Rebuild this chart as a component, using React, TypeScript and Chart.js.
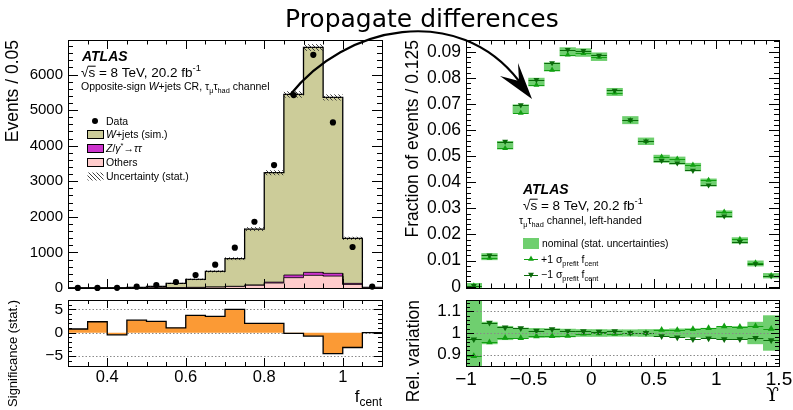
import React, { useEffect, useRef } from 'react';
import { Chart, registerables } from 'chart.js';
Chart.register(...registerables);

const SANS = "'Liberation Sans', Arial, Helvetica, sans-serif";

// ---------------- data: left (f_cent) ----------------
const fcentEdges = [0.30, 0.35, 0.40, 0.45, 0.50, 0.55, 0.60, 0.65, 0.70, 0.75, 0.80, 0.85, 0.90, 0.95, 1.00, 1.05, 1.10];
const wjetsSim = [0, 0, 5, 18, 39, 118, 225, 438, 775, 1568, 3075, 5075, 6320, 4944, 1265, 14];
const zTauTau = [0, 0, 0, 0, 1, 2, 3, 5, 8, 12, 25, 75, 85, 77, 30, 1];
const othersBkg = [0, 0, 0, 2, 5, 10, 15, 25, 40, 75, 140, 290, 355, 335, 100, 5];
const mcStatErr = [1, 1, 3, 6, 10, 15, 22, 30, 40, 55, 70, 90, 95, 85, 45, 5];
const dataEvents = [3, 3, 5, 37, 84, 168, 365, 655, 1132, 1862, 3455, 5421, 6553, 4654, 1152, 40];
const significance = [0.8, 2.35, -0.45, 2.7, 2.45, 1.05, 3.7, 3.5, 5.0, 2.0, 2.0, -0.15, -0.7, -4.45, -3.15, 0.05];

const eventsYTicks = [0, 1000, 2000, 3000, 4000, 5000, 6000];
const sigYTicks = [-5, 0, 5];
const fcentXTicks = [0.4, 0.6, 0.8, 1];

// ---------------- data: right (Upsilon) ----------------
const upsEdges = [-1, -0.875, -0.75, -0.625, -0.5, -0.375, -0.25, -0.125, 0, 0.125, 0.25, 0.375, 0.5, 0.625, 0.75, 0.875, 1, 1.125, 1.25, 1.375, 1.5];
const nominalFrac = [0.0004, 0.0115, 0.0542, 0.0681, 0.0784, 0.0842, 0.0900, 0.0897, 0.0881, 0.0746, 0.0638, 0.0557, 0.0490, 0.0483, 0.0458, 0.0399, 0.0278, 0.0177, 0.0089, 0.0042];
const nominalErr = [0.0009, 0.0012, 0.0015, 0.0016, 0.0015, 0.0016, 0.0016, 0.0015, 0.0015, 0.0014, 0.0014, 0.0013, 0.0014, 0.0014, 0.0015, 0.0014, 0.0013, 0.0011, 0.0010, 0.0009];
const relUp = [0.894, 0.957, 0.978, 0.977, 0.985, 0.986, 0.987, 0.997, 0.998, 0.996, 0.998, 1.0, 1.015, 1.014, 1.018, 1.023, 1.031, 1.028, 1.032, 1.019];
const relDown = [0.971, 1.048, 1.026, 1.022, 1.011, 1.018, 1.009, 1.008, 1.006, 1.008, 1.001, 1.0, 0.985, 0.98, 0.972, 0.975, 0.972, 0.972, 0.978, 0.967];
const relStatErr = [0.3, 0.05, 0.031, 0.023, 0.021, 0.02, 0.018, 0.016, 0.016, 0.015, 0.015, 0.016, 0.017, 0.019, 0.02, 0.022, 0.026, 0.03, 0.05, 0.08];

const fracYTicks = [0, 0.01, 0.02, 0.03, 0.04, 0.05, 0.06, 0.07, 0.08, 0.09];
const relYTicks = [0.9, 1, 1.1];
const upsXTicks = [-1, -0.5, 0, 0.5, 1, 1.5];

// ---------------- colours ----------------
const OLIVE = '#cccc99';
const MAGENTA = '#cc33cc';
const PINK = '#ffcccc';
const ORANGE = '#fb9a35';
const GREEN_BOX = '#6fcf6f';
const UP_COL = '#12a012';
const DN_COL = '#0a6a0a';

// ---------------- helpers ----------------
const centers = (edges: number[]) => edges.slice(0, -1).map((e, i) => (e + edges[i + 1]) / 2);
const stepPoints = (edges: number[], vals: number[]) => {
  const pts: any[] = [];
  vals.forEach((v, i) => { pts.push({ x: edges[i], y: v }); pts.push({ x: edges[i + 1], y: v }); });
  return pts;
};
const fmt = (v: number) => {
  const r = Math.round(v * 10000) / 10000;
  return (r < 0 ? '\u2212' : '') + String(Math.abs(r));
};
const seq = (a: number, b: number, s: number) => {
  const out: number[] = [];
  const n = Math.round((b - a) / s);
  for (let i = 0; i <= n; i++) out.push(+(a + i * s).toFixed(6));
  return out;
};

type Seg = { t: string; s?: number; dy?: number; i?: boolean; b?: boolean; f?: string; o?: boolean };
function rich(ctx: CanvasRenderingContext2D, x: number, y: number, segs: Seg[], size: number, align: 'left' | 'right' = 'left') {
  const fnt = (g: Seg) => `${g.i ? 'italic ' : ''}${g.b ? 'bold ' : ''}${(g.s ?? 1) * size}px ${g.f ?? SANS}`;
  let w = 0;
  for (const g of segs) { ctx.font = fnt(g); w += ctx.measureText(g.t).width; }
  let cx = align === 'right' ? x - w : x;
  ctx.save();
  ctx.textAlign = 'left';
  ctx.textBaseline = 'alphabetic';
  ctx.fillStyle = '#000';
  ctx.strokeStyle = '#000';
  for (const g of segs) {
    ctx.font = fnt(g);
    const gw = ctx.measureText(g.t).width;
    ctx.fillText(g.t, cx, y + (g.dy ?? 0));
    if (g.o) {
      ctx.lineWidth = 1;
      ctx.beginPath();
      ctx.moveTo(cx - 0.5, y - size * 0.8);
      ctx.lineTo(cx + gw + 0.5, y - size * 0.8);
      ctx.stroke();
    }
    cx += gw;
  }
  ctx.restore();
  return w;
}

function drawTri(ctx: CanvasRenderingContext2D, x: number, y: number, r: number, down: boolean, color: string) {
  const s = down ? -1 : 1;
  ctx.beginPath();
  ctx.moveTo(x, y - s * r);
  ctx.lineTo(x + r * 0.866, y + s * r * 0.5);
  ctx.lineTo(x - r * 0.866, y + s * r * 0.5);
  ctx.closePath();
  ctx.fillStyle = color;
  ctx.fill();
}

function hatchPattern(ctx: CanvasRenderingContext2D) {
  const c = document.createElement('canvas');
  c.width = 4; c.height = 4;
  const g = c.getContext('2d')!;
  g.strokeStyle = '#2a2a2a';
  g.lineWidth = 0.9;
  g.beginPath();
  g.moveTo(-1, -1); g.lineTo(5, 5);
  g.moveTo(-1, 3); g.lineTo(1, 5);
  g.moveTo(3, -1); g.lineTo(5, 1);
  g.stroke();
  return ctx.createPattern(c, 'repeat')!;
}

type FrameCfg = { xTicks: number[]; xMajor: number[]; yTicks: number[]; yMajor: number[]; xl: [number, number]; yl: [number, number] };
function framePlugin(cfg: FrameCfg) {
  return {
    id: 'frame',
    afterDraw(chart: any) {
      const { ctx, chartArea: a, scales } = chart;
      const x = scales.x, y = scales.y;
      const isMaj = (v: number, maj: number[]) => maj.some((m) => Math.abs(m - v) < 1e-7);
      ctx.save();
      ctx.strokeStyle = '#000';
      ctx.lineWidth = 1;
      ctx.beginPath();
      for (const v of cfg.xTicks) {
        if (v <= x.min + 1e-9 || v >= x.max - 1e-9) continue;
        const p = Math.round(x.getPixelForValue(v)) + 0.5;
        const L = isMaj(v, cfg.xMajor) ? cfg.xl[0] : cfg.xl[1];
        ctx.moveTo(p, a.bottom); ctx.lineTo(p, a.bottom - L);
        ctx.moveTo(p, a.top); ctx.lineTo(p, a.top + L);
      }
      for (const v of cfg.yTicks) {
        if (v <= y.min + 1e-9 || v >= y.max - 1e-9) continue;
        const p = Math.round(y.getPixelForValue(v)) + 0.5;
        const L = isMaj(v, cfg.yMajor) ? cfg.yl[0] : cfg.yl[1];
        ctx.moveTo(a.left, p); ctx.lineTo(a.left + L, p);
        ctx.moveTo(a.right, p); ctx.lineTo(a.right - L, p);
      }
      ctx.stroke();
      ctx.strokeRect(Math.round(a.left) + 0.5, Math.round(a.top) + 0.5, Math.round(a.right - a.left), Math.round(a.bottom - a.top));
      ctx.restore();
    },
  };
}

function dottedPlugin(values: number[], hook: 'beforeDatasetsDraw' | 'afterDatasetsDraw') {
  return {
    id: 'dotted',
    [hook](chart: any) {
      const { ctx, chartArea: a, scales } = chart;
      ctx.save();
      ctx.strokeStyle = '#8a8a8a';
      ctx.lineWidth = 1;
      ctx.setLineDash([1.5, 2]);
      ctx.beginPath();
      for (const v of values) {
        const p = Math.round(scales.y.getPixelForValue(v)) + 0.5;
        ctx.moveTo(a.left, p); ctx.lineTo(a.right, p);
      }
      ctx.stroke();
      ctx.restore();
    },
  };
}

function yAxis(o: { min: number; max: number; ticks: number[]; size: number; width: number; title?: string; titleSize?: number; titlePad?: number }) {
  return {
    type: 'linear',
    min: o.min,
    max: o.max,
    afterBuildTicks: (s: any) => { s.ticks = o.ticks.map((v) => ({ value: v })); },
    afterFit: (s: any) => { s.width = o.width; s.paddingTop = 0; s.paddingBottom = 0; },
    grid: { display: false, drawTicks: false },
    border: { display: false },
    ticks: { autoSkip: false, padding: 5, color: '#000', font: { size: o.size, family: SANS }, callback: (v: any) => fmt(Number(v)) },
    title: o.title
      ? { display: true, text: o.title, align: 'end', color: '#000', font: { size: o.titleSize, family: SANS }, padding: { top: o.titlePad ?? 2, bottom: 0 } }
      : { display: false },
  };
}

function xAxis(o: { min: number; max: number; ticks?: number[]; size?: number; height?: number; hidden?: boolean }) {
  if (o.hidden) return { type: 'linear', min: o.min, max: o.max, offset: false, display: false };
  return {
    type: 'linear',
    min: o.min,
    max: o.max,
    offset: false,
    afterBuildTicks: (s: any) => { s.ticks = (o.ticks || []).map((v) => ({ value: v })); },
    afterFit: (s: any) => { s.height = o.height; s.paddingLeft = 0; s.paddingRight = 0; },
    grid: { display: false, drawTicks: false },
    border: { display: false },
    ticks: { autoSkip: false, maxRotation: 0, padding: 2, color: '#000', font: { size: o.size, family: SANS }, callback: (v: any) => fmt(Number(v)) },
  };
}

const baseOptions = (padding: any) => ({
  responsive: false,
  animation: false,
  events: [],
  devicePixelRatio: 1,
  layout: { padding },
  plugins: { legend: { display: false }, tooltip: { enabled: false } },
});

// ---------------- chart builders ----------------
function buildTopLeft(offX: number, offY: number) {
  const cx = centers(fcentEdges);
  const zo = othersBkg.map((v, i) => v + zTauTau[i]);
  const total = zo.map((v, i) => v + wjetsSim[i]);
  const hatch = {
    id: 'hatch',
    beforeDatasetDraw(chart: any, args: any) {
      if (args.index !== 0) return;
      const { ctx, scales } = chart;
      const pat = hatchPattern(ctx);
      ctx.save();
      ctx.fillStyle = pat;
      total.forEach((t, i) => {
        const x0 = scales.x.getPixelForValue(fcentEdges[i]);
        const x1 = scales.x.getPixelForValue(fcentEdges[i + 1]);
        const y0 = scales.y.getPixelForValue(t + mcStatErr[i]);
        const y1 = scales.y.getPixelForValue(Math.max(0, t - mcStatErr[i]));
        ctx.fillRect(x0, y0, x1 - x0, y1 - y0);
      });
      ctx.restore();
    },
  };
  const annot = {
    id: 'annot',
    afterDraw(chart: any) {
      const ctx = chart.ctx as CanvasRenderingContext2D;
      ctx.save();
      ctx.translate(-offX, -offY);
      rich(ctx, 82, 61, [{ t: 'ATLAS', b: true, i: true }], 14);
      rich(ctx, 81, 77, [{ t: '\u221A' }, { t: 's', o: true }, { t: ' = 8 TeV, 20.2 fb' }, { t: '-1', s: 0.7, dy: -6 }], 13.5);
      rich(ctx, 81, 90, [{ t: 'Opposite-sign ' }, { t: 'W', i: true }, { t: '+jets CR, \u03C4' }, { t: '\u03BC', s: 0.7, dy: 3 }, { t: '\u03C4' }, { t: 'had', s: 0.7, dy: 3 }, { t: ' channel' }], 10.5);
      // legend
      const fs = 10.5;
      ctx.fillStyle = '#000';
      ctx.beginPath(); ctx.arc(95, 121, 3, 0, Math.PI * 2); ctx.fill();
      rich(ctx, 106, 124.5, [{ t: 'Data' }], fs);
      const boxes: [string, number, Seg[]][] = [
        [OLIVE, 134.5, [{ t: 'W', i: true }, { t: '+jets (sim.)' }]],
        [MAGENTA, 148.5, [{ t: 'Z', i: true }, { t: '/' }, { t: '\u03B3', i: true }, { t: '*', s: 0.7, dy: -4 }, { t: '\u2192' }, { t: '\u03C4\u03C4', i: true }]],
        [PINK, 162.5, [{ t: 'Others' }]],
      ];
      for (const [col, yc, segs] of boxes) {
        ctx.fillStyle = col;
        ctx.fillRect(87.5, yc - 4, 16, 8);
        ctx.strokeStyle = '#000'; ctx.lineWidth = 1;
        ctx.strokeRect(87.5, yc - 4, 16, 8);
        rich(ctx, 106, yc + 3.7, segs, fs);
      }
      ctx.fillStyle = hatchPattern(ctx);
      ctx.fillRect(87.5, 172.5, 16, 8);
      rich(ctx, 106, 180.2, [{ t: 'Uncertainty (stat.)' }], fs);
      ctx.restore();
    },
  };
  return {
    type: 'line',
    data: {
      datasets: [
        { label: 'Data', data: cx.map((c, i) => ({ x: c, y: dataEvents[i] })), showLine: false, pointRadius: 3.1, pointBackgroundColor: '#000', pointBorderWidth: 0, clip: false, order: 0 },
        { label: 'Others', data: stepPoints(fcentEdges, othersBkg), borderColor: '#000', borderWidth: 0.8, backgroundColor: PINK, fill: 'origin', pointRadius: 0, tension: 0, order: 1 },
        { label: 'Z', data: stepPoints(fcentEdges, zo), borderColor: '#000', borderWidth: 0.8, backgroundColor: MAGENTA, fill: 'origin', pointRadius: 0, tension: 0, order: 2 },
        { label: 'W+jets', data: stepPoints(fcentEdges, total), borderColor: '#000', borderWidth: 1.3, backgroundColor: OLIVE, fill: 'origin', pointRadius: 0, tension: 0, order: 3 },
      ],
    },
    options: {
      ...baseOptions({ top: 40, right: 14, left: 0, bottom: 17 }),
      scales: {
        x: xAxis({ min: 0.3, max: 1.1, hidden: true }),
        y: yAxis({ min: 0, max: 6970, ticks: eventsYTicks, size: 15, width: 68, title: 'Events / 0.05', titleSize: 17.5, titlePad: 3 }),
      },
    },
    plugins: [hatch, framePlugin({ xTicks: seq(0.3, 1.1, 0.05), xMajor: fcentXTicks, yTicks: seq(0, 6800, 200), yMajor: eventsYTicks, xl: [9, 4.5], yl: [10, 5] }), annot],
  };
}

function buildBottomLeft(offX: number, offY: number) {
  const annot = {
    id: 'annot',
    afterDraw(chart: any) {
      const ctx = chart.ctx as CanvasRenderingContext2D;
      ctx.save();
      ctx.translate(-offX, -offY);
      rich(ctx, 382, 402, [{ t: 'f' }, { t: 'cent', s: 0.7, dy: 4 }], 17, 'right');
      ctx.restore();
    },
  };
  return {
    type: 'line',
    data: {
      datasets: [
        { label: 'Significance', data: stepPoints(fcentEdges, significance), borderColor: '#000', borderWidth: 1.3, backgroundColor: ORANGE, fill: 'origin', pointRadius: 0, tension: 0 },
      ],
    },
    options: {
      ...baseOptions({ top: 20, right: 14, left: 0, bottom: 0 }),
      scales: {
        x: xAxis({ min: 0.3, max: 1.1, ticks: fcentXTicks, size: 16.5, height: 44 }),
        y: yAxis({ min: -7.1, max: 7.0, ticks: sigYTicks, size: 15.5, width: 68, title: 'Significance (stat.)', titleSize: 13, titlePad: 6 }),
      },
    },
    plugins: [dottedPlugin([-5, 0, 5], 'beforeDatasetsDraw'), framePlugin({ xTicks: seq(0.3, 1.1, 0.05), xMajor: fcentXTicks, yTicks: seq(-7, 7, 1), yMajor: sigYTicks, xl: [8, 4], yl: [8, 4] }), annot],
  };
}

function binLinesPlugin(getVals: (i: number) => [number, number]) {
  return {
    id: 'binlines',
    afterDatasetDraw(chart: any, args: any) {
      if (args.index !== 0) return;
      const { ctx, scales } = chart;
      ctx.save();
      ctx.lineWidth = 1;
      for (let i = 0; i < upsEdges.length - 1; i++) {
        const x0 = scales.x.getPixelForValue(upsEdges[i]);
        const x1 = scales.x.getPixelForValue(upsEdges[i + 1]);
        const [u, d] = getVals(i);
        for (const [v, col] of [[u, UP_COL], [d, DN_COL]] as [number, string][]) {
          const p = Math.round(scales.y.getPixelForValue(v)) + 0.5;
          if (p < chart.chartArea.top || p > chart.chartArea.bottom) continue;
          ctx.strokeStyle = col;
          ctx.beginPath(); ctx.moveTo(x0, p); ctx.lineTo(x1, p); ctx.stroke();
        }
      }
      ctx.restore();
    },
  };
}

function buildTopRight(offX: number, offY: number) {
  const cx = centers(upsEdges);
  const annot = {
    id: 'annot',
    afterDraw(chart: any) {
      const ctx = chart.ctx as CanvasRenderingContext2D;
      ctx.save();
      ctx.translate(-offX, -offY);
      rich(ctx, 523, 194, [{ t: 'ATLAS', b: true, i: true }], 14);
      rich(ctx, 523, 210, [{ t: '\u221A' }, { t: 's', o: true }, { t: ' = 8 TeV, 20.2 fb' }, { t: '-1', s: 0.7, dy: -6 }], 13.5);
      rich(ctx, 519, 223.5, [{ t: '\u03C4' }, { t: '\u03BC', s: 0.7, dy: 3 }, { t: '\u03C4' }, { t: 'had', s: 0.7, dy: 3 }, { t: ' channel, left-handed' }], 10.5);
      ctx.fillStyle = GREEN_BOX;
      ctx.fillRect(523, 238, 16, 11);
      rich(ctx, 542, 246.8, [{ t: 'nominal (stat. uncertainties)' }], 10.3);
      const rows: [number, boolean, string, string][] = [[259, false, UP_COL, '+1 \u03C3'], [274.5, true, DN_COL, '\u22121 \u03C3']];
      for (const [yc, down, col, lab] of rows) {
        ctx.strokeStyle = col; ctx.lineWidth = 1;
        ctx.beginPath(); ctx.moveTo(524, Math.round(yc) + 0.5); ctx.lineTo(538, Math.round(yc) + 0.5); ctx.stroke();
        drawTri(ctx, 531, yc, 3.4, down, col);
        rich(ctx, 541, yc + 3.6, [{ t: lab }, { t: 'prefit', s: 0.7, dy: 3 }, { t: ' f' }, { t: 'cent', s: 0.7, dy: 3 }], 10.5);
      }
      ctx.restore();
    },
  };
  return {
    type: 'bar',
    data: {
      datasets: [
        { type: 'bar', label: 'nominal', data: cx.map((c, i) => ({ x: c, y: [nominalFrac[i] - nominalErr[i], nominalFrac[i] + nominalErr[i]] })), backgroundColor: GREEN_BOX, borderWidth: 0, barPercentage: 1, categoryPercentage: 1, order: 5 },
        { type: 'line', label: '+1', data: cx.map((c, i) => ({ x: c, y: nominalFrac[i] * relUp[i] })), showLine: false, pointStyle: 'triangle', pointRadius: 3.4, pointBackgroundColor: UP_COL, pointBorderWidth: 0, clip: false, order: 2 },
        { type: 'line', label: '-1', data: cx.map((c, i) => ({ x: c, y: nominalFrac[i] * relDown[i] })), showLine: false, pointStyle: 'triangle', pointRotation: 180, pointRadius: 3.4, pointBackgroundColor: DN_COL, pointBorderWidth: 0, clip: false, order: 1 },
      ],
    },
    options: {
      ...baseOptions({ top: 40, right: 14, left: 0, bottom: 17 }),
      scales: {
        x: xAxis({ min: -1, max: 1.5, hidden: true }),
        y: yAxis({ min: -0.0005, max: 0.0945, ticks: fracYTicks, size: 17.5, width: 66, title: 'Fraction of events / 0.125', titleSize: 17.5, titlePad: 3 }),
      },
    },
    plugins: [binLinesPlugin((i) => [nominalFrac[i] * relUp[i], nominalFrac[i] * relDown[i]]), framePlugin({ xTicks: seq(-1, 1.5, 0.1), xMajor: upsXTicks, yTicks: seq(0, 0.094, 0.002), yMajor: fracYTicks, xl: [9, 4.5], yl: [10, 5] }), annot],
  };
}

function buildBottomRight(offX: number, offY: number) {
  const cx = centers(upsEdges);
  const annot = {
    id: 'annot',
    afterDraw(chart: any) {
      const ctx = chart.ctx as CanvasRenderingContext2D;
      ctx.save();
      ctx.translate(-offX, -offY);
      rich(ctx, 779, 401, [{ t: '\u03D2', f: "'DejaVu Serif', serif" }], 19, 'right');
      ctx.restore();
    },
  };
  return {
    type: 'bar',
    data: {
      datasets: [
        { type: 'bar', label: 'stat', data: cx.map((c, i) => ({ x: c, y: [Math.max(0.848, 1 - relStatErr[i]), Math.min(1.152, 1 + relStatErr[i])] })), backgroundColor: GREEN_BOX, borderWidth: 0, barPercentage: 1, categoryPercentage: 1, order: 5 },
        { type: 'line', label: '+1', data: cx.map((c, i) => ({ x: c, y: relUp[i] })), showLine: false, pointStyle: 'triangle', pointRadius: 3.8, pointBackgroundColor: UP_COL, pointBorderWidth: 0, clip: false, order: 2 },
        { type: 'line', label: '-1', data: cx.map((c, i) => ({ x: c, y: relDown[i] })), showLine: false, pointStyle: 'triangle', pointRotation: 180, pointRadius: 3.8, pointBackgroundColor: DN_COL, pointBorderWidth: 0, clip: false, order: 1 },
      ],
    },
    options: {
      ...baseOptions({ top: 20, right: 14, left: 0, bottom: 0 }),
      scales: {
        x: xAxis({ min: -1, max: 1.5, ticks: upsXTicks, size: 19, height: 44 }),
        y: yAxis({ min: 0.848, max: 1.152, ticks: relYTicks, size: 17, width: 66, title: 'Rel. variation', titleSize: 17.5, titlePad: 4 }),
      },
    },
    plugins: [binLinesPlugin((i) => [relUp[i], relDown[i]]), dottedPlugin([0.9, 1, 1.1], 'afterDatasetsDraw'), framePlugin({ xTicks: seq(-1, 1.5, 0.1), xMajor: upsXTicks, yTicks: seq(0.86, 1.14, 0.02), yMajor: relYTicks, xl: [8, 4], yl: [8, 4] }), annot],
  };
}

function ChartBox(props: { left: number; top: number; width: number; height: number; build: (ox: number, oy: number) => any }) {
  const ref = useRef<HTMLCanvasElement>(null);
  useEffect(() => {
    const chart = new Chart(ref.current as HTMLCanvasElement, props.build(props.left, props.top));
    return () => chart.destroy();
  }, []);
  return (
    <canvas
      ref={ref}
      width={props.width}
      height={props.height}
      style={{ position: 'absolute', left: props.left, top: props.top, width: props.width, height: props.height }}
    />
  );
}

export default function App() {
  return (
    <div style={{ position: 'fixed', left: 0, top: 0, width: 793, height: 410, background: '#fff', overflow: 'hidden' }}>
      <ChartBox left={0} top={0} width={396} height={305} build={buildTopLeft} />
      <ChartBox left={0} top={280} width={396} height={130} build={buildBottomLeft} />
      <ChartBox left={400} top={0} width={393} height={305} build={buildTopRight} />
      <ChartBox left={400} top={280} width={393} height={130} build={buildBottomRight} />
      <svg width={793} height={410} style={{ position: 'absolute', left: 0, top: 0, pointerEvents: 'none' }}>
        <text x={285} y={27} fontFamily="'DejaVu Sans', sans-serif" fontSize={25} fill="#000">Propagate differences</text>
        <path d="M290,95 C345,25 458,2 519,81" stroke="#000" strokeWidth={2.2} fill="none" />
        <polygon points="532,99 518,63 519,81 500,76" fill="#000" />
      </svg>
    </div>
  );
}
